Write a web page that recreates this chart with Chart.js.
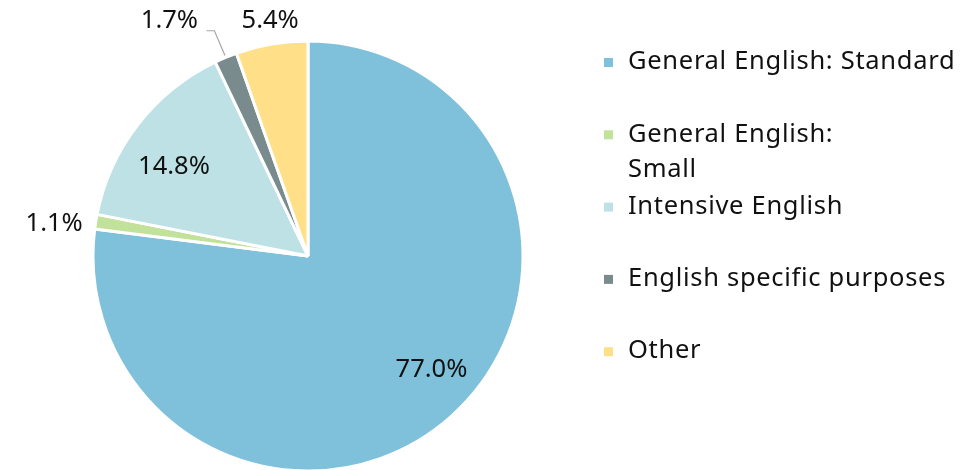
<!DOCTYPE html>
<html>
<head>
<meta charset="utf-8">
<script src="https://cdn.jsdelivr.net/npm/chart.js@4/dist/chart.umd.min.js"></script>
<style>
  html, body { margin: 0; padding: 0; background: #fff; }
  #wrap { width: 976px; height: 470px; }
</style>
</head>
<body>
<div id="wrap"><canvas id="pieChart"></canvas></div>
<script>
// datos del gráfico
const categorias = ['General English: Standard', 'General English: Small', 'Intensive English', 'English specific purposes', 'Other'];
const etiquetasLeyenda = [['General English: Standard'], ['General English:', 'Small'], ['Intensive English'], ['English specific purposes'], ['Other']];
const porcentajes = [77.0, 1.1, 14.8, 1.7, 5.4];
const colores = ['#7fc0da', '#c2e29b', '#bde1e4', '#7a8b8e', '#ffdf88'];

// posición de las etiquetas (fracción del radio y giro en grados)
const radioEtiqueta = [0.78, 1.19, 0.75, 1.27, 1.11];
const giroEtiqueta = [-6, -2, -4, -8, 0.6];

const fuente = '25.5px "Noto Sans", sans-serif';

// etiquetas de porcentaje
const etiquetasPlugin = {
    id: 'etiquetas',
    afterDatasetsDraw(chart) {
        const ctx = chart.ctx;
        const meta = chart.getDatasetMeta(0);
        ctx.save();
        ctx.font = fuente;
        ctx.fillStyle = '#111';
        ctx.textAlign = 'center';
        ctx.textBaseline = 'middle';
        meta.data.forEach((arc, i) => {
            const mid = (arc.startAngle + arc.endAngle) / 2;
            const ang = mid + giroEtiqueta[i] * Math.PI / 180;
            const r = arc.outerRadius * radioEtiqueta[i];
            const x = arc.x + Math.cos(ang) * r;
            const y = arc.y + Math.sin(ang) * r;
            if (radioEtiqueta[i] > 1.2) {
                // línea guía
                const r0 = arc.outerRadius + 2;
                ctx.strokeStyle = '#a6a6a6';
                ctx.lineWidth = 1.2;
                ctx.beginPath();
                ctx.moveTo(arc.x + Math.cos(mid) * r0, arc.y + Math.sin(mid) * r0);
                ctx.lineTo(x + 45, y + 10);
                ctx.lineTo(x + 37, y + 10);
                ctx.stroke();
            }
            ctx.fillText(porcentajes[i].toFixed(1) + '%', x, y);
        });
        ctx.restore();
    }
};

// leyenda a la derecha
const leyendaPlugin = {
    id: 'leyenda',
    afterDraw(chart) {
        const ctx = chart.ctx;
        ctx.save();
        ctx.font = fuente;
        ctx.letterSpacing = '0.7px';
        ctx.textBaseline = 'middle';
        ctx.textAlign = 'left';
        etiquetasLeyenda.forEach((lineas, i) => {
            const y = 62 + i * 72.3;
            ctx.fillStyle = colores[i];
            ctx.fillRect(604, y - 4, 9, 9);
            ctx.fillStyle = '#111';
            lineas.forEach((t, j) => ctx.fillText(t, 628, y + j * 35));
        });
        ctx.restore();
    }
};

const pieCtx = document.getElementById('pieChart').getContext('2d');
const pieChart = new Chart(pieCtx, {
    type: 'pie',
    data: {
        labels: categorias,
        datasets: [{
            data: porcentajes,
            backgroundColor: colores,
            borderColor: '#ffffff',
            borderWidth: 3,
        }]
    },
    options: {
        responsive: true,
        maintainAspectRatio: false,
        animation: false,
        radius: 215,
        layout: { padding: { left: 0, right: 360, top: 42, bottom: 0 } },
        plugins: {
            legend: { display: false },
            tooltip: { enabled: false },
        }
    },
    plugins: [etiquetasPlugin, leyendaPlugin]
});
</script>
</body>
</html>
